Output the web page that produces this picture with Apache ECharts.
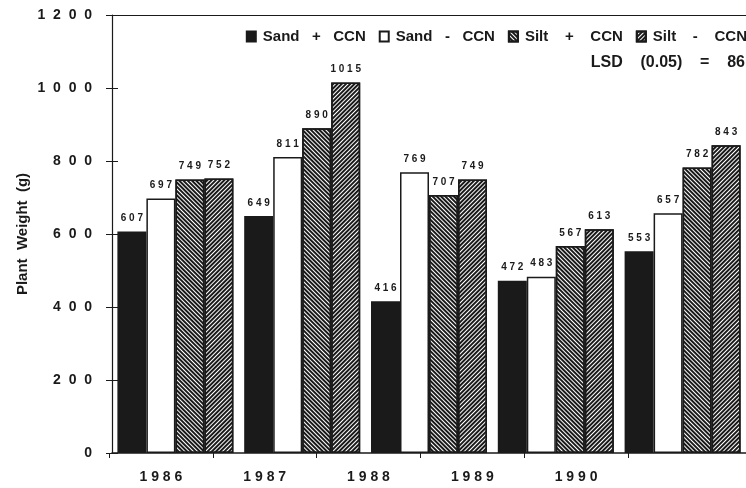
<!DOCTYPE html>
<html>
<head>
<meta charset="utf-8">
<script src="https://cdn.jsdelivr.net/npm/echarts@6/dist/echarts.min.js"></script>
<style>
  html, body { margin: 0; padding: 0; background: #fff; }
  #chart { width: 746px; height: 488px; }
</style>
</head>
<body>
<div id="chart"></div>
<script>
// data
const years = ['1986', '1987', '1988', '1989', '1990']
const sandPlus = [607, 649, 416, 472, 553]
const sandMinus = [697, 811, 769, 483, 657]
const siltPlus = [749, 890, 707, 567, 782]
const siltMinus = [752, 1015, 749, 613, 843]
const lsdText = 'LSD    (0.05)    =    86'

const spaced = (v, gap) => String(v).split('').join(gap || ' ')
const font = 'Liberation Sans, Arial, sans-serif'
const ink = '#1a1a1a'

const barLabel = {
  show: true,
  position: 'top',
  distance: 8,
  fontSize: 10,
  fontWeight: 'bold',
  fontFamily: font,
  color: ink,
  formatter: p => spaced(p.value)
}

function bar (name, data, fill, decal) {
  const s = {
    name: name,
    type: 'bar',
    xAxisIndex: 1,
    yAxisIndex: 1,
    barWidth: 29,
    barGap: '0%',
    data: data,
    label: barLabel,
    itemStyle: { color: fill, borderColor: ink, borderWidth: 1.5 }
  }
  if (decal) s.itemStyle.decal = decal
  return s
}

// diagonal line fill
const hatch = rot => ({
  symbol: 'rect',
  symbolSize: 1,
  color: ink,
  dashArrayX: [1, 0],
  dashArrayY: [2, 1],
  rotation: rot
})

const myChart = echarts.init(document.getElementById('chart'))
const option = {
  backgroundColor: '#fff',
  animation: false,
  textStyle: { fontFamily: font },
  title: {
    text: lsdText,
    right: -4,
    top: 50,
    textStyle: { fontSize: 16, fontWeight: 'bold', color: ink, fontFamily: font }
  },
  legend: {
    right: -6,
    top: 24,
    itemWidth: 9,
    itemHeight: 10,
    itemGap: 13,
    icon: 'rect',
    textStyle: { fontSize: 15, fontWeight: 'bold', color: ink, fontFamily: font, padding: [0, 0, 0, 2] }
  },
  grid: [
    // labels / ticks of the year axis
    { left: 109, top: 15, bottom: 35, width: 519 },
    // bars
    { left: 112, top: 15, bottom: 35, width: 641 }
  ],
  xAxis: [
    {
      gridIndex: 0,
      type: 'category',
      data: years,
      axisLine: { show: false },
      axisTick: { show: true, length: 5, lineStyle: { color: ink } },
      axisLabel: {
        margin: 17,
        fontSize: 14,
        fontWeight: 'bold',
        color: ink,
        fontFamily: font,
        formatter: v => spaced(v)
      }
    },
    {
      gridIndex: 1,
      type: 'category',
      data: years,
      axisLine: { show: true, lineStyle: { color: ink, width: 1.5 } },
      axisTick: { show: false },
      axisLabel: { show: false }
    },
    {
      gridIndex: 1,
      type: 'category',
      position: 'top',
      data: years,
      axisLine: { show: true, lineStyle: { color: ink, width: 1.2 } },
      axisTick: { show: false },
      axisLabel: { show: false }
    }
  ],
  yAxis: [
    {
      // ticks that cross into the plot
      gridIndex: 0,
      type: 'value',
      min: 0,
      max: 1200,
      interval: 200,
      axisLine: { show: false },
      axisTick: { show: true, inside: true, length: 9, lineStyle: { color: ink } },
      splitLine: { show: false },
      axisLabel: { show: false }
    },
    {
      gridIndex: 1,
      type: 'value',
      position: 'left',
      min: 0,
      max: 1200,
      interval: 200,
      name: 'Plant  Weight  (g)',
      nameLocation: 'middle',
      nameGap: 82,
      nameMoveOverlap: false,
      nameTextStyle: { fontSize: 15, fontWeight: 'bold', color: ink, fontFamily: font },
      axisLine: { show: true, lineStyle: { color: ink, width: 1.2 } },
      axisTick: { show: true, length: 6, lineStyle: { color: ink } },
      splitLine: { show: false },
      axisLabel: {
        margin: 20,
        fontSize: 14,
        fontWeight: 'bold',
        color: ink,
        fontFamily: font,
        formatter: v => spaced(v, '  ')
      }
    }
  ],
  series: [
    bar('Sand   +   CCN', sandPlus, ink),
    bar('Sand   -   CCN', sandMinus, '#fff'),
    bar('Silt    +    CCN', siltPlus, '#fff', hatch(Math.PI / 4)),
    bar('Silt    -    CCN', siltMinus, '#fff', hatch(-Math.PI / 4))
  ]
}
myChart.setOption(option)
</script>
</body>
</html>
